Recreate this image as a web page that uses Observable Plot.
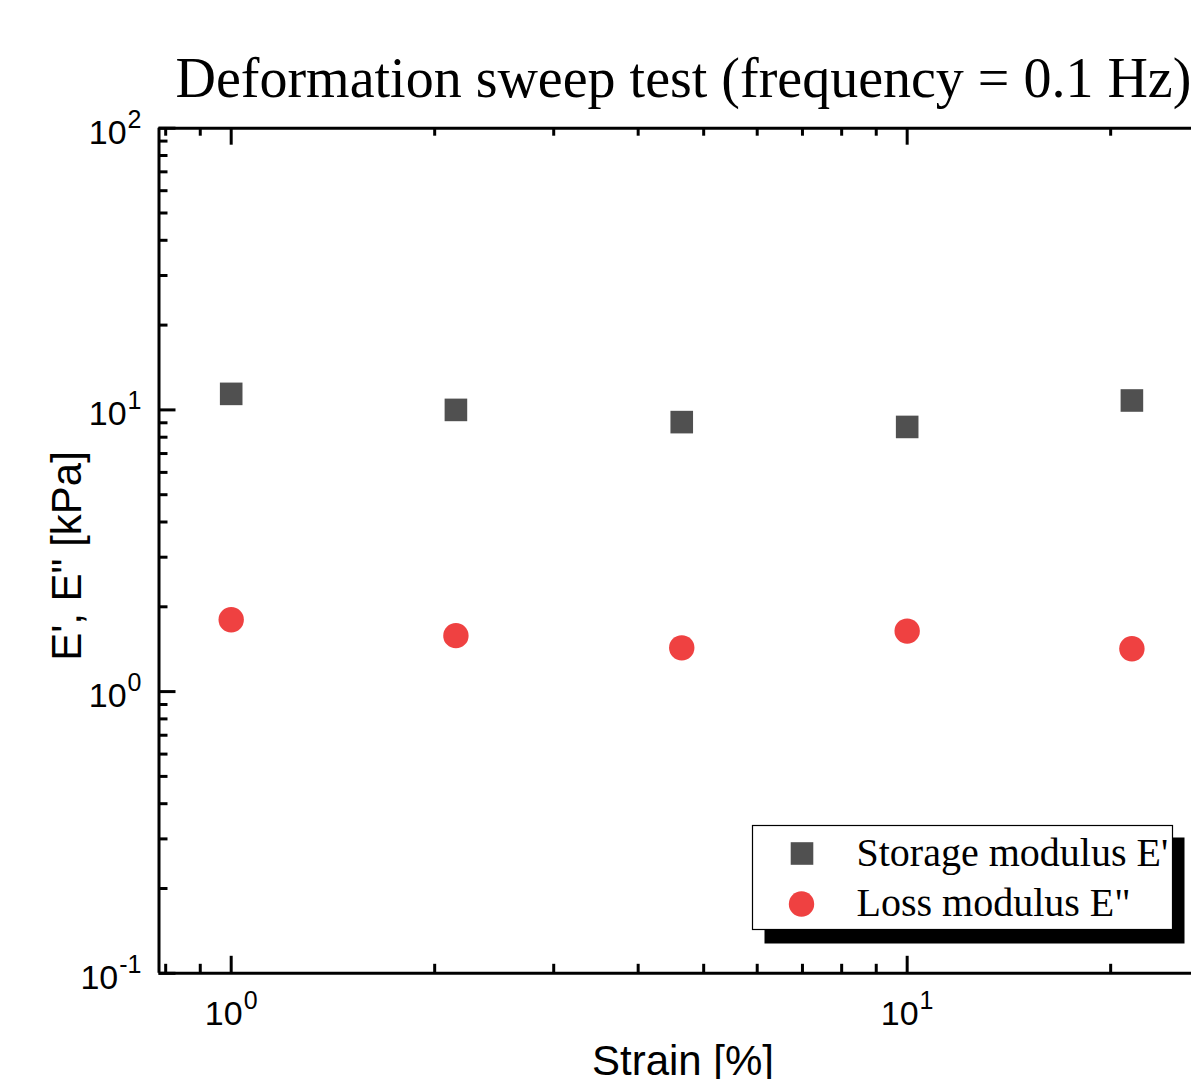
<!DOCTYPE html>
<html>
<head>
<meta charset="utf-8">
<script src="https://cdn.jsdelivr.net/npm/d3@7"></script>
<script src="https://cdn.jsdelivr.net/npm/@observablehq/plot@0.6"></script>
<style>
html, body { margin: 0; padding: 0; background: #fff; overflow: hidden; }
svg { display: block; }
</style>
</head>
<body>
<div id="chart"></div>
<script>
// ---- Data ----
const titleText = "Deformation sweep test (frequency = 0.1 Hz)";
const xLabel = "Strain [%]";
const yLabel = "E', E\" [kPa]";
const seriesNames = ["Storage modulus E'", "Loss modulus E\""];
const strain = [1, 2.15, 4.64, 10, 21.5];
const storage = [11.4, 10.0, 9.05, 8.7, 10.8];
const loss = [1.80, 1.58, 1.43, 1.64, 1.42];
const xMajorTicks = [1, 10];
const xMinorTicks = [0.8, 0.9, 2, 3, 4, 5, 6, 7, 8, 9, 20];
const yMajorTicks = [0.1, 1, 10, 100];
const yMinorTicks = [0.2, 0.3, 0.4, 0.5, 0.6, 0.7, 0.8, 0.9, 2, 3, 4, 5, 6, 7, 8, 9, 20, 30, 40, 50, 60, 70, 80, 90];
const xTickLabels = [{v: 1, e: "0"}, {v: 10, e: "1"}];
const yTickLabels = [{v: 0.1, e: "-1"}, {v: 1, e: "0"}, {v: 10, e: "1"}, {v: 100, e: "2"}];
const xDomain = [0.782, 26.34];
const yDomain = [0.1, 100];

// ---- Styles / layout ----
const W = 1191, H = 1079;
const mL = 158.5, mT = 127.7, mB = 106.2, mR = 0;
const innerW = W - mL - mR, innerH = H - mT - mB;
const squareColor = "#505050";
const circleColor = "#ef4141";
const sans = "'Liberation Sans', Arial, Helvetica, sans-serif";
const serif = "'Liberation Serif', 'Times New Roman', Times, serif";

const table = strain.flatMap((s, i) => [
  {strain: s, value: storage[i], series: seriesNames[0]},
  {strain: s, value: loss[i], series: seriesNames[1]}
]);

const chart = Plot.plot({
  width: W, height: H,
  marginLeft: mL, marginTop: mT, marginBottom: mB, marginRight: mR,
  style: {fontFamily: sans, background: "white", color: "black", overflow: "hidden"},
  x: {type: "log", domain: xDomain, axis: null},
  y: {type: "log", domain: yDomain, axis: null},
  marks: [
    // bottom ticks (inward)
    Plot.tickX(xMajorTicks, {x: d => d, insetTop: innerH - 17, stroke: "black", strokeWidth: 3}),
    Plot.tickX(xMinorTicks, {x: d => d, insetTop: innerH - 9, stroke: "black", strokeWidth: 3}),
    // top ticks (inward)
    Plot.tickX(xMajorTicks, {x: d => d, insetBottom: innerH - 17, stroke: "black", strokeWidth: 3}),
    Plot.tickX(xMinorTicks, {x: d => d, insetBottom: innerH - 8, stroke: "black", strokeWidth: 3}),
    // left ticks (inward)
    Plot.tickY(yMajorTicks, {y: d => d, insetRight: innerW - 17, stroke: "black", strokeWidth: 3}),
    Plot.tickY(yMinorTicks, {y: d => d, insetRight: innerW - 9, stroke: "black", strokeWidth: 3}),
    // axis lines
    Plot.ruleX([xDomain[0]], {stroke: "black", strokeWidth: 3}),
    Plot.ruleY([yDomain[0]], {stroke: "black", strokeWidth: 3}),
    Plot.ruleY([yDomain[1]], {stroke: "black", strokeWidth: 3}),
    // tick labels
    Plot.text(xTickLabels, {x: "v", frameAnchor: "bottom", lineAnchor: "middle", text: d => "10^" + d.e, dy: 41.3,
      fontSize: 34, fill: "black", textAnchor: "middle"}),
    Plot.text(yTickLabels, {y: "v", frameAnchor: "left", lineAnchor: "middle", text: d => "10^" + d.e, dx: -17.5, dy: 4.7,
      fontSize: 34, fill: "black", textAnchor: "end"}),
    // data
    Plot.dot(table.filter(d => d.series === seriesNames[0]), {x: "strain", y: "value", symbol: "square", r: 12.75, fill: squareColor, stroke: null}),
    Plot.dot(table.filter(d => d.series === seriesNames[1]), {x: "strain", y: "value", symbol: "circle", r: 12.7, fill: circleColor, stroke: null}),
    // axis titles
    Plot.text([xLabel], {frameAnchor: "bottom", lineAnchor: "middle", textAnchor: "middle", dx: 7.75, dy: 88.5, fontSize: 42, fill: "black"}),
    Plot.text([yLabel], {frameAnchor: "left", lineAnchor: "middle", textAnchor: "middle", rotate: -90, dx: -91.9, dy: 5.25, fontSize: 42, fill: "black"}),
    // title
    Plot.text([titleText], {frameAnchor: "top-left", lineAnchor: "middle", textAnchor: "start", dx: 16.5, dy: -49.6, fontSize: 56, fontFamily: serif, fill: "black"}),
    // legend
    Plot.frame({fill: "black", stroke: null, insetLeft: 605.5, insetRight: 7, insetTop: 709.3, insetBottom: 29.8}),
    Plot.frame({fill: "white", stroke: "black", strokeWidth: 1.2, insetLeft: 593.5, insetRight: 19, insetTop: 697.3, insetBottom: 43.8}),
    Plot.dot([seriesNames[0]], {frameAnchor: "top-left", dx: 643, dy: 725.3, symbol: "square", r: 12.75, fill: squareColor, stroke: null}),
    Plot.dot([seriesNames[1]], {frameAnchor: "top-left", dx: 642.5, dy: 775.8, symbol: "circle", r: 12.7, fill: circleColor, stroke: null}),
    Plot.text([seriesNames[0]], {frameAnchor: "top-left", lineAnchor: "middle", textAnchor: "start", dx: 697.5, dy: 725.3, fontSize: 40, fontFamily: serif, fill: "black"}),
    Plot.text([seriesNames[1]], {frameAnchor: "top-left", lineAnchor: "middle", textAnchor: "start", dx: 697.5, dy: 775.3, fontSize: 40, fontFamily: serif, fill: "black"})
  ]
});

// superscript exponents for tick labels
const ns = "http://www.w3.org/2000/svg";
chart.querySelectorAll("text").forEach(t => {
  if (t.children.length || !t.textContent.includes("^")) return;
  const [base, exp] = t.textContent.split("^");
  t.textContent = "";
  const b = document.createElementNS(ns, "tspan");
  b.textContent = base;
  const s = document.createElementNS(ns, "tspan");
  s.textContent = exp;
  s.setAttribute("font-size", "25");
  s.setAttribute("dy", "-16");
  s.setAttribute("dx", "1");
  t.appendChild(b);
  t.appendChild(s);
});

document.getElementById("chart").appendChild(chart);
</script>
</body>
</html>
